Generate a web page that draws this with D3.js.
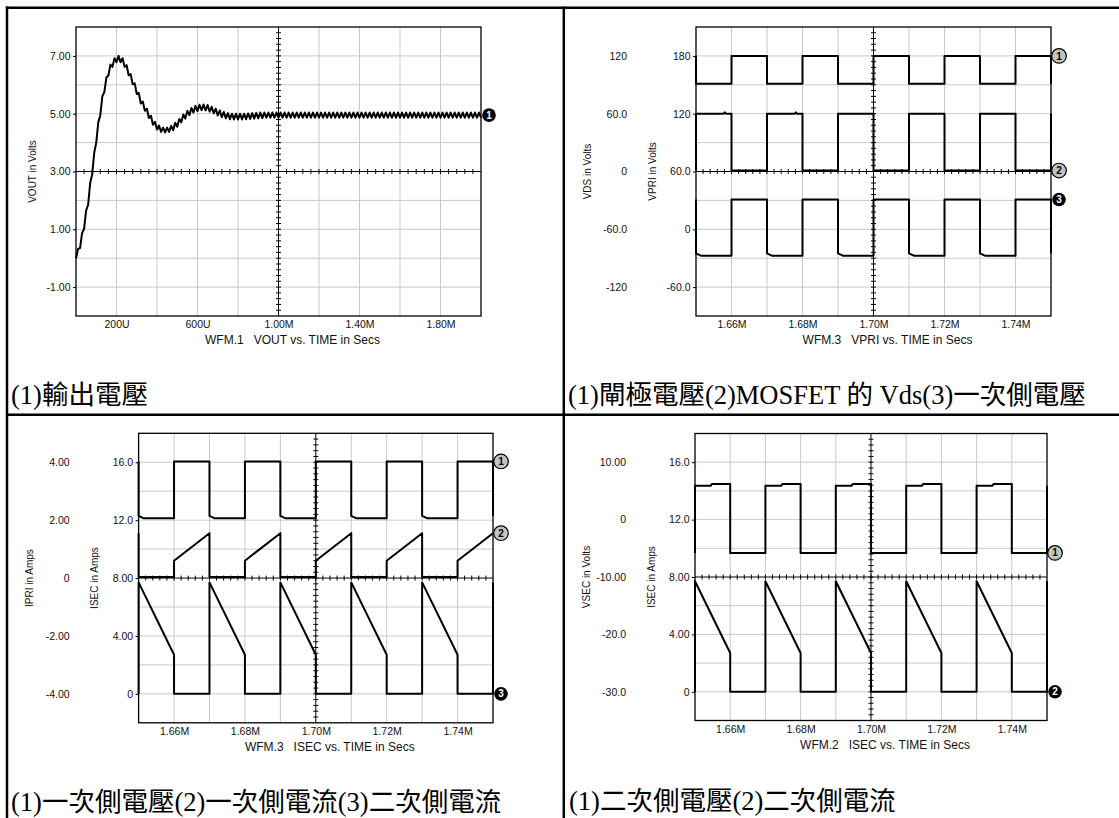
<!DOCTYPE html>
<html><head><meta charset="utf-8">
<script src="https://cdn.jsdelivr.net/npm/d3@7"></script>
<style>
body{margin:0;background:#fff}
svg{display:block}
</style></head><body>
<svg id="chart" width="1119" height="818"></svg>
<script>
// ================= DATA =================
// Panel 1: VOUT (V) sampled every 10 us, 0 .. 2000 us
const voutTimeUs = d3.range(0, 2001, 10);
const vout = [
0.00,0.32,0.35,0.87,1.02,1.65,1.85,2.60,2.90,3.65,
4.00,4.70,4.95,5.60,5.75,6.25,6.32,6.70,6.62,6.92,
6.78,7.00,6.78,6.92,6.62,6.68,6.33,6.37,6.02,6.05,
5.68,5.72,5.35,5.42,5.10,5.17,4.85,4.93,4.62,4.72,
4.45,4.59,4.37,4.52,4.35,4.52,4.37,4.58,4.43,4.69,
4.55,4.82,4.70,4.97,4.83,5.10,4.95,5.20,5.04,5.27,
5.09,5.31,5.12,5.32,5.11,5.30,5.07,5.24,5.01,5.17,
4.94,5.11,4.88,5.06,4.84,5.02,4.81,5.00,4.80,5.00,
4.80,5.00,4.80,5.00,4.81,5.01,4.82,5.02,4.83,5.03,
4.84,5.04,4.85,5.04,4.86,5.04,
4.86,5.04,4.86,5.04,4.86,5.04,4.86,5.04,
4.86,5.04,4.86,5.04,4.86,5.04,4.86,5.04,
4.86,5.04,4.86,5.04,4.86,5.04,4.86,5.04,
4.86,5.04,4.86,5.04,4.86,5.04,4.86,5.04,
4.86,5.04,4.86,5.04,4.86,5.04,4.86,5.04,
4.86,5.04,4.86,5.04,4.86,5.04,4.86,5.04,
4.86,5.04,4.86,5.04,4.86,5.04,4.86,5.04,
4.86,5.04,4.86,5.04,4.86,5.04,4.86,5.04,
4.86,5.04,4.86,5.04,4.86,5.04,4.86,5.04,
4.86,5.04,4.86,5.04,4.86,5.04,4.86,5.04,
4.86,5.04,4.86,5.04,4.86,5.04,4.86,5.04,
4.86,5.04,4.86,5.04,4.86,5.04,4.86,5.04,
4.86,5.04,4.86,5.04,4.86,5.04,4.86,5.04,
4.86
];
const p1XTicks = [200, 600, 1000, 1400, 1800];
const p1XLabels = ["200U", "600U", "1.00M", "1.40M", "1.80M"];
const p1YTicks = [7, 5, 3, 1, -1];
const p1YLabels = ["7.00", "5.00", "3.00", "1.00", "-1.00"];
const p1Anchor = [4.95];

// Time axis for panels 2-4 (ms)
const msTicks = [1.66, 1.68, 1.70, 1.72, 1.74];
const msLabels = ["1.66M", "1.68M", "1.70M", "1.72M", "1.74M"];

// Panel 2: gate (V), VDS (V), VPRI (V)
const gateT = [1.65,1.65,1.66,1.66,1.67,1.67,1.68,1.68,1.69,1.69,1.70,1.70,1.71,1.71,1.72,1.72,1.73,1.73,1.74,1.74,1.75,1.75];
const gateV = [15,0.5,0.5,15,15,0.5,0.5,15,15,0.5,0.5,15,15,0.5,0.5,15,15,0.5,0.5,15,15,0.5];
const vdsT = [1.65,1.65,1.6578,1.6581,1.6584,1.66,1.66,1.67,1.67,1.6778,1.6781,1.6784,1.68,1.68,1.69,1.69,1.70,1.70,1.71,1.71,1.72,1.72,1.73,1.73,1.74,1.74,1.75,1.75];
const vdsV = [1,60,60,61.5,60,60,1,1,60,60,61.5,60,60,1,1,60,60,1,1,60,60,1,1,60,60,1,1,60];
const vpriT = [1.65,1.65,1.6515,1.66,1.66,1.67,1.67,1.6715,1.68,1.68,1.69,1.69,1.6915,1.70,1.70,1.71,1.71,1.7115,1.72,1.72,1.73,1.73,1.7315,1.74,1.74,1.75,1.75];
const vpriV = [31,-25,-27.5,-27.5,31,31,-25,-27.5,-27.5,31,31,-25,-27.5,-27.5,31,31,-25,-27.5,-27.5,31,31,-25,-27.5,-27.5,31,31,-25];
const vdsTicks = [120, 60, 0, -60, -120];
const vdsLabels = ["120", "60.0", "0", "-60.0", "-120"];
const vpriTicks = [180, 120, 60, 0, -60];
const vpriLabels = ["180", "120", "60.0", "0", "-60.0"];
const p2Anchor = [15, 1, 31];

// Panel 3: VPRI (V), IPRI (A), ISEC (A)
const ipriT = [1.65,1.65,1.66,1.66,1.67,1.67,1.68,1.68,1.69,1.69,1.70,1.70,1.71,1.71,1.72,1.72,1.73,1.73,1.74,1.74,1.75];
const ipriV = [1.55,0.04,0.04,0.6,1.55,0.04,0.04,0.6,1.55,0.04,0.04,0.6,1.55,0.04,0.04,0.6,1.55,0.04,0.04,0.6,1.55];
const isecT = [1.65,1.65,1.66,1.66,1.67,1.67,1.68,1.68,1.69,1.69,1.70,1.70,1.71,1.71,1.72,1.72,1.73,1.73,1.74,1.74,1.75,1.75];
const isecV = [0,7.7,2.7,0,0,7.7,2.7,0,0,7.7,2.7,0,0,7.7,2.7,0,0,7.7,2.7,0,0,7.7];
const ipriTicks = [4, 2, 0, -2, -4];
const ipriLabels = ["4.00", "2.00", "0", "-2.00", "-4.00"];
const isecTicks = [16, 12, 8, 4, 0];
const isecLabels = ["16.0", "12.0", "8.00", "4.00", "0"];
const p3Anchor = [31, 1.55, 0];

// Panel 4: VSEC (V), ISEC (A)
const vsecT = [1.65,1.65,1.6545,1.6548,1.66,1.66,1.67,1.67,1.6745,1.6748,1.68,1.68,1.69,1.69,1.6945,1.6948,1.70,1.70,1.71,1.71,1.7145,1.7148,1.72,1.72,1.73,1.73,1.7345,1.7348,1.74,1.74,1.75,1.75];
const vsecV = [-5.8,5.9,5.9,6.2,6.2,-5.8,-5.8,5.9,5.9,6.2,6.2,-5.8,-5.8,5.9,5.9,6.2,6.2,-5.8,-5.8,5.9,5.9,6.2,6.2,-5.8,-5.8,5.9,5.9,6.2,6.2,-5.8,-5.8,5.9];
const vsecTicks = [10, 0, -10, -20, -30];
const vsecLabels = ["10.00", "0", "-10.00", "-20.0", "-30.0"];
const p4Anchor = [-5.8, 0];

const captions = ["(1)輸出電壓", "(1)閘極電壓(2)MOSFET 的 Vds(3)一次側電壓",
                  "(1)一次側電壓(2)一次側電流(3)二次側電流", "(1)二次側電壓(2)二次側電流"];
const xTitles = ["WFM.1\u00a0\u00a0\u00a0VOUT vs. TIME in Secs", "WFM.3\u00a0\u00a0\u00a0VPRI vs. TIME in Secs",
                 "WFM.3\u00a0\u00a0\u00a0ISEC vs. TIME in Secs", "WFM.2\u00a0\u00a0\u00a0ISEC vs. TIME in Secs"];

// ================= DRAWING =================
const SANS = '"Liberation Sans", Arial, Helvetica, sans-serif';
const SERIF = '"Liberation Serif", "Times New Roman", "Noto Sans CJK TC", serif';
const svg = d3.select('#chart');

// table borders
const B = svg.append('g').attr('stroke', '#000').attr('stroke-width', 2.5);
B.append('line').attr('x1', 5.8).attr('x2', 1119).attr('y1', 7.8).attr('y2', 7.8);
B.append('line').attr('x1', 7).attr('x2', 7).attr('y1', 6.5).attr('y2', 818);
B.append('line').attr('x1', 563.8).attr('x2', 563.8).attr('y1', 6.5).attr('y2', 818);
B.append('line').attr('x1', 7).attr('x2', 1119).attr('y1', 414.7).attr('y2', 414.7);

const panels = [
  { L: 76, T: 27, W: 405, H: 289, xDomain: [0, 2000], xTicks: p1XTicks, xLabels: p1XLabels,
    inner: { domain: [-2, 8], ticks: p1YTicks, labels: p1YLabels, title: "VOUT in Volts" },
    outer: null, xTitle: xTitles[0], caption: captions[0], capX: 11, capY: 404,
    traces: [{ t: voutTimeUs, v: vout, domain: [-2, 8], label: "1", dark: true, anchor: p1Anchor[0] }] },
  { L: 696, T: 27, W: 355, H: 289, xDomain: [1.65, 1.75], xTicks: msTicks, xLabels: msLabels,
    inner: { domain: [-90, 210], ticks: vpriTicks, labels: vpriLabels, title: "VPRI in Volts" },
    outer: { domain: [-150, 150], ticks: vdsTicks, labels: vdsLabels, title: "VDS in Volts" },
    xTitle: xTitles[1], caption: captions[1], capX: 568, capY: 404,
    traces: [
      { t: gateT, v: gateV, domain: [-120, 30], label: "1", dark: false, anchor: p2Anchor[0] },
      { t: vdsT, v: vdsV, domain: [-150, 150], label: "2", dark: false, anchor: p2Anchor[1] },
      { t: vpriT, v: vpriV, domain: [-90, 210], label: "3", dark: true, anchor: p2Anchor[2] }] },
  { L: 138.6, T: 433.3, W: 354.4, H: 289.5, xDomain: [1.65, 1.75], xTicks: msTicks, xLabels: msLabels,
    inner: { domain: [-2, 18], ticks: isecTicks, labels: isecLabels, title: "ISEC in Amps" },
    outer: { domain: [-5, 5], ticks: ipriTicks, labels: ipriLabels, title: "IPRI in Amps" },
    xTitle: xTitles[2], caption: captions[2], capX: 11, capY: 811,
    traces: [
      { t: vpriT, v: vpriV, domain: [-238, 60], label: "1", dark: false, anchor: p3Anchor[0] },
      { t: ipriT, v: ipriV, domain: [-5, 5], label: "2", dark: false, anchor: p3Anchor[1] },
      { t: isecT, v: isecV, domain: [-2, 18], label: "3", dark: true, anchor: p3Anchor[2] }] },
  { L: 695, T: 433.5, W: 352, H: 287, xDomain: [1.65, 1.75], xTicks: msTicks, xLabels: msLabels,
    inner: { domain: [-2, 18], ticks: isecTicks, labels: isecLabels, title: "ISEC in Amps" },
    outer: { domain: [-35, 15], ticks: vsecTicks, labels: vsecLabels, title: "VSEC in Volts" },
    xTitle: xTitles[3], caption: captions[3], capX: 569, capY: 810,
    traces: [
      { t: vsecT, v: vsecV, domain: [-35, 15], label: "1", dark: false, anchor: p4Anchor[0] },
      { t: isecT, v: isecV, domain: [-2, 18], label: "2", dark: true, anchor: p4Anchor[1] }] }
];

function styleAxis(a) {
  a.select('.domain').remove();
  a.attr('font-size', 10.5).attr('font-family', SANS);
  a.selectAll('text').attr('fill', '#111');
  a.selectAll('line').attr('stroke', '#000');
}

function drawPanel(p) {
  const g = svg.append('g');
  const bottom = p.T + p.H, right = p.L + p.W;
  const x = d3.scaleLinear().domain(p.xDomain).range([p.L, right]);
  const gx = d3.scaleLinear().domain([0, 10]).range([p.L, right]);
  const gy = d3.scaleLinear().domain([0, 10]).range([p.T, bottom]);
  const divs = d3.range(1, 10).filter(i => i !== 5);

  // grid
  const grid = g.append('g').attr('stroke', '#c9c9c9').attr('stroke-width', 1);
  grid.selectAll('line.v').data(divs).join('line').attr('class', 'v')
    .attr('x1', d => gx(d)).attr('x2', d => gx(d)).attr('y1', p.T).attr('y2', bottom);
  grid.selectAll('line.h').data(divs).join('line').attr('class', 'h')
    .attr('y1', d => gy(d)).attr('y2', d => gy(d)).attr('x1', p.L).attr('x2', right);

  // crosshair with minor ticks
  const cx = gx(5), cy = gy(5);
  const ch = g.append('g').attr('stroke', '#000').attr('stroke-width', 1);
  ch.append('line').attr('x1', cx).attr('x2', cx).attr('y1', p.T).attr('y2', bottom);
  ch.append('line').attr('x1', p.L).attr('x2', right).attr('y1', cy).attr('y2', cy);
  const minor = d3.range(1, 50);
  ch.selectAll('line.mv').data(minor).join('line').attr('class', 'mv')
    .attr('x1', cx - 2.5).attr('x2', cx + 2.5).attr('y1', d => gy(d / 5)).attr('y2', d => gy(d / 5));
  ch.selectAll('line.mh').data(minor).join('line').attr('class', 'mh')
    .attr('y1', cy - 2.5).attr('y2', cy + 2.5).attr('x1', d => gx(d / 5)).attr('x2', d => gx(d / 5));

  // frame
  g.append('rect').attr('x', p.L).attr('y', p.T).attr('width', p.W).attr('height', p.H)
    .attr('fill', 'none').attr('stroke', '#000').attr('stroke-width', 1.3);

  // x axis labels
  const ax = g.append('g').attr('transform', `translate(0,${bottom})`)
    .call(d3.axisBottom(x).tickValues(p.xTicks).tickFormat((d, i) => p.xLabels[i]).tickSize(0).tickPadding(5));
  styleAxis(ax);

  // y axes
  const yi = d3.scaleLinear().domain(p.inner.domain).range([bottom, p.T]);
  const ai = g.append('g').attr('transform', `translate(${p.L},0)`)
    .call(d3.axisLeft(yi).tickValues(p.inner.ticks).tickFormat((d, i) => p.inner.labels[i]).tickSize(3).tickPadding(2.5));
  styleAxis(ai);
  g.append('text').attr('transform', `translate(${p.L - 44},${p.T + p.H / 2}) rotate(-90)`)
    .attr('text-anchor', 'middle').attr('dy', '0.35em').attr('font-size', 10).attr('font-family', SANS)
    .attr('fill', '#111').text(p.inner.title);
  if (p.outer) {
    const yo = d3.scaleLinear().domain(p.outer.domain).range([bottom, p.T]);
    const ao = g.append('g').attr('transform', `translate(${p.L - 69},0)`)
      .call(d3.axisLeft(yo).tickValues(p.outer.ticks).tickFormat((d, i) => p.outer.labels[i]).tickSize(0).tickPadding(0));
    styleAxis(ao);
    g.append('text').attr('transform', `translate(${p.L - 109},${p.T + p.H / 2}) rotate(-90)`)
      .attr('text-anchor', 'middle').attr('dy', '0.35em').attr('font-size', 10).attr('font-family', SANS)
      .attr('fill', '#111').text(p.outer.title);
  }

  // x title
  g.append('text').attr('x', p.L + p.W / 2 + 14).attr('y', bottom + 28).attr('text-anchor', 'middle')
    .attr('font-size', 12).attr('font-family', SANS).attr('fill', '#111').text(p.xTitle);

  // traces
  const labels = [];
  p.traces.forEach(tr => {
    const y = d3.scaleLinear().domain(tr.domain).range([bottom, p.T]);
    const pts = tr.t.map((t, i) => [t, tr.v[i]]);
    g.append('path').attr('d', d3.line().x(d => x(d[0])).y(d => y(d[1]))(pts))
      .attr('fill', 'none').attr('stroke', '#000').attr('stroke-width', 2)
      .attr('stroke-linejoin', 'round');
    labels.push({ y: y(tr.anchor), label: tr.label, dark: tr.dark });
  });
  labels.forEach(l => {
    const lx = right + 8;
    g.append('circle').attr('cx', lx).attr('cy', l.y).attr('r', l.dark ? 6.8 : 7.3)
      .attr('fill', l.dark ? '#000' : '#c3c3c3').attr('stroke', '#000').attr('stroke-width', l.dark ? 0 : 1.2);
    g.append('text').attr('x', lx).attr('y', l.y).attr('dy', '0.36em').attr('text-anchor', 'middle')
      .attr('font-size', 10).attr('font-weight', 'bold').attr('font-family', SANS)
      .attr('fill', l.dark ? '#fff' : '#000').text(l.label);
  });

  // caption
  g.append('text').attr('x', p.capX).attr('y', p.capY).attr('font-size', 26.5).attr('font-family', SERIF)
    .attr('fill', '#000').text(p.caption);
}

panels.forEach(drawPanel);
</script></body></html>
